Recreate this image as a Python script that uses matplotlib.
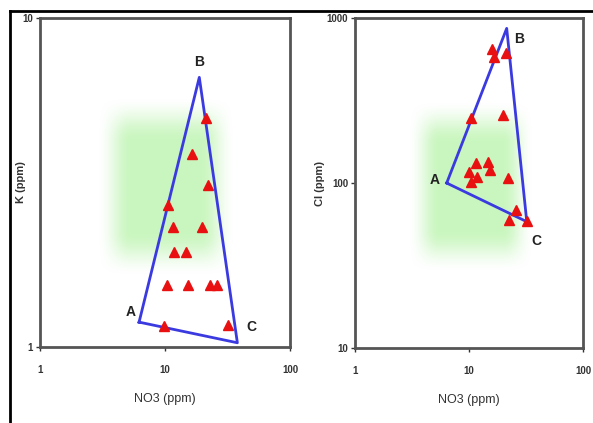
import numpy as np
import matplotlib.pyplot as plt
from matplotlib.lines import Line2D

# left panel: K vs NO3
k_no3 = [21.3, 16.5, 22.2, 10.5, 11.5, 19.9, 11.9, 14.6, 10.4, 15.4, 22.9, 25.9, 9.9, 32.1]
k_val = [4.96, 3.86, 3.11, 2.70, 2.32, 2.32, 1.94, 1.94, 1.54, 1.54, 1.54, 1.54, 1.16, 1.17]
k_tri_x = [6.2, 18.8, 37.9]
k_tri_y = [1.19, 6.6, 1.03]

# right panel: Cl vs NO3
cl_no3 = [16.0, 16.5, 21.1, 10.5, 20.0, 9.9, 10.35, 11.5, 11.8, 14.6, 15.3, 22.0, 25.8, 22.6, 32.1]
cl_val = [650, 580, 611, 247, 258, 117, 102, 132, 109, 135, 120, 107, 69, 60, 59]
cl_tri_x = [6.37, 21.4, 32.1]
cl_tri_y = [100, 866, 58.3]

tri_labels = ["A", "B", "C"]

plt.rcParams['font.family'] = ['Liberation Sans Narrow', 'Liberation Sans', 'DejaVu Sans']

fig = plt.figure(figsize=(5.93, 4.23), dpi=100)
ax1 = fig.add_axes([0.0675, 0.1797, 0.4216, 0.7778])
ax2 = fig.add_axes([0.5987, 0.1773, 0.3845, 0.7800])

# soft green background patch
n = 200
u = np.linspace(0, 1, n)
def edge(t, w):
    s = np.clip(np.minimum(t, 1 - t) / w, 0, 1)
    return s * s * (3 - 2 * s)
wx = edge(u, 0.25)
wy = edge(u, 0.25)
alpha = np.outer(wy, wx) * 0.42
img = np.zeros((n, n, 4))
img[..., 0] = 0.50
img[..., 1] = 0.92
img[..., 2] = 0.40
img[..., 3] = alpha


def panel(ax, xs, ys, tx, ty, ylim, ylabel, green, offs, ylab_x):
    ax.set_xscale('log')
    ax.set_yscale('log')
    ax.set_xlim(1, 100)
    ax.set_ylim(*ylim)
    # green box given in data units, placed in axes fractions (log axes)
    lx = np.log10(ax.get_xlim())
    ly = np.log10(ax.get_ylim())
    gx = (np.log10(green[:2]) - lx[0]) / (lx[1] - lx[0])
    gy = (np.log10(green[2:]) - ly[0]) / (ly[1] - ly[0])
    ax.imshow(img, extent=[gx[0], gx[1], gy[0], gy[1]], transform=ax.transAxes,
              aspect='auto', zorder=0, interpolation='bilinear')
    ax.plot(tx + tx[:1], ty + ty[:1], color='#3a3ae0', lw=2, zorder=2)
    ax.plot(xs, ys, ls='none', marker='^', ms=7, color='#e81010', mec='#e81010', zorder=3)
    for lab, x, y, (dx, dy) in zip(tri_labels, tx, ty, offs):
        ax.annotate(lab, (x, y), xytext=(dx, dy), textcoords='offset points',
                    ha='center', va='center', fontsize=10, color='#222222',
                    fontweight='bold', family=['Liberation Sans', 'DejaVu Sans'])
    ax.minorticks_off()
    ax.set_xticks([1, 10, 100], ['1', '10', '100'])
    yt = [ylim[0], ylim[0] * 10, ylim[1]] if ylim[1] / ylim[0] > 10 else [ylim[0], ylim[1]]
    ax.set_yticks(yt, [str(int(v)) for v in yt])
    ax.tick_params(labelsize=7, colors='#333333', length=3, width=1)
    ax.tick_params(axis='x', pad=10)
    ax.tick_params(axis='y', pad=2)
    for t in ax.get_xticklabels() + ax.get_yticklabels():
        t.set_fontweight('bold')
    for s in ax.spines.values():
        s.set_color('#555555')
        s.set_linewidth(2)
    ax.set_xlabel('NO3 (ppm)', fontsize=9, color='#333333', labelpad=13)
    ax.set_ylabel(ylabel, fontsize=8, fontweight='bold', color='#333333',
                  family=['Liberation Sans', 'DejaVu Sans'])
    ax.yaxis.set_label_coords(ylab_x, 0.5)
    ax.set_facecolor('white')


panel(ax1, k_no3, k_val, k_tri_x, k_tri_y, (1, 10), 'K (ppm)',
      [2.86, 36.3, 1.63, 5.75], [(-6, 7), (0, 11), (10, 11)], -0.055)
panel(ax2, cl_no3, cl_val, cl_tri_x, cl_tri_y, (10, 1000), 'Cl (ppm)',
      [2.92, 36.5, 28.5, 318], [(-9, 2), (9, -8), (7, -14)], -0.13)

# outer frame lines (top and left)
fig.add_artist(Line2D([10 / 593, 1], [1 - 11 / 423, 1 - 11 / 423], color='black', lw=2))
fig.add_artist(Line2D([10 / 593, 10 / 593], [0, 1 - 11 / 423], color='black', lw=2))

fig.savefig('out.png', dpi=100)
